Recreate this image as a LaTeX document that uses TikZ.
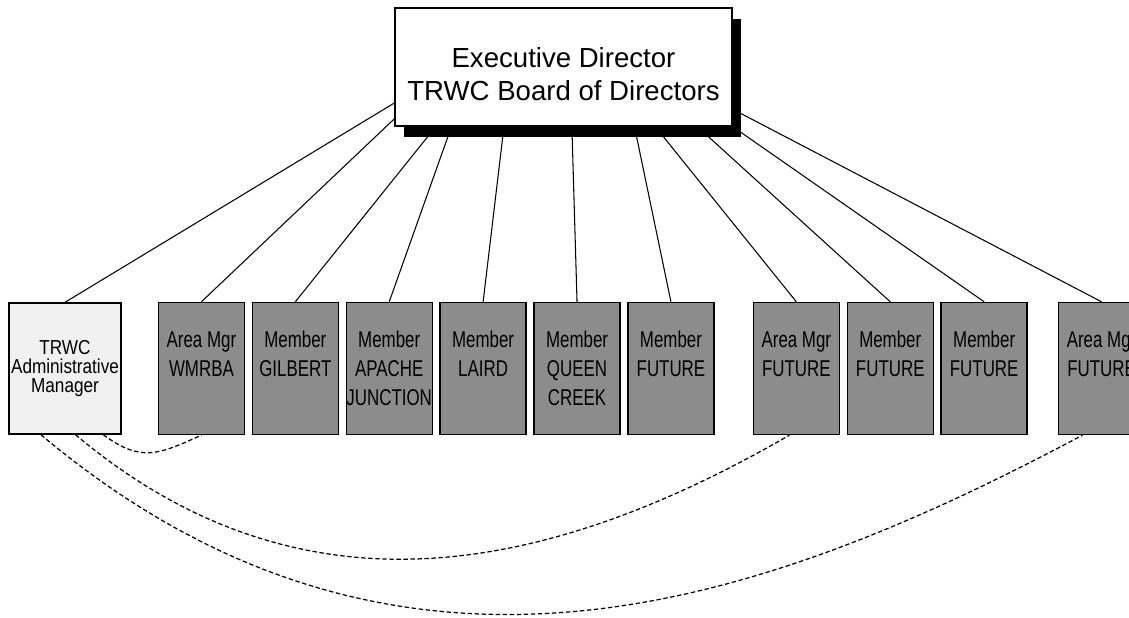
\documentclass[tikz,border=0pt]{standalone}
\usepackage{fontspec}
\setmainfont{Liberation Sans}
\newfontfamily\unitfont[FakeStretch=0.74]{Liberation Sans}
\newfontfamily\adminfont[FakeStretch=0.85]{Liberation Sans}
\usetikzlibrary{positioning,shadows}

\begin{document}
\begin{tikzpicture}[node distance=0.13cm,
    exec/.style={draw,line width=0.6pt,fill=white,inner sep=0pt,minimum width=6.74cm,minimum height=2.36cm,align=center,font=\fontsize{15.7}{18.8}\selectfont,drop shadow={shadow xshift=0.18cm,shadow yshift=-0.23cm,fill=black,opacity=1}},
    admin/.style={draw,line width=0.8pt,fill=black!6,inner sep=0pt,minimum width=2.24cm,minimum height=2.62cm,align=center,font=\adminfont\fontsize{11.5}{11}\selectfont},
    unit/.style={draw,line width=0.8pt,fill=black!45,inner sep=0pt,minimum width=1.72cm,minimum height=2.64cm,align=center,font=\unitfont\fontsize{13}{16.5}\selectfont},
    report/.style={line width=0.6pt},
    liaison/.style={line width=0.7pt,dash pattern=on 2.5pt off 1.5pt}]
        \useasboundingbox (0,0) rectangle (22.58,-12.36);
        \node[exec] (head) at (11.27,-1.34) {\rule{0pt}{19.5pt}Executive Director\\TRWC Board of Directors};
        \node[admin] (admin) at (1.30,-7.37) {TRWC\\Administrative\\Manager};
        \node[unit,right=0.72cm of admin] (wmrba) {Area Mgr\\WMRBA\\~};
        \node[unit,right=of wmrba] (gilbert) {Member\\GILBERT\\~};
        \node[unit,right=of gilbert] (apache) {Member\\APACHE\\JUNCTION};
        \node[unit,right=of apache] (laird) {Member\\LAIRD\\~};
        \node[unit,right=of laird] (queen) {Member\\QUEEN\\CREEK};
        \node[unit,right=of queen] (futa) {Member\\FUTURE\\~};
        \node[unit,right=0.76cm of futa] (futb) {Area Mgr\\FUTURE\\~};
        \node[unit,right=of futb] (futc) {Member\\FUTURE\\~};
        \node[unit,right=of futc] (futd) {Member\\FUTURE\\~};
        \node[unit,right=0.6cm of futd] (fute) {Area Mgr\\FUTURE\\~};
        % reporting lines
        \draw[report] (head.192) -- (admin.north);
        \draw[report] (head.197) -- (wmrba.north);
        \draw[report] (head.205) -- (gilbert.north);
        \draw[report] (head.208) -- (apache.north);
        \draw[report] (head.225) -- (laird.north);
        \draw[report] (head.-82) -- (queen.north);
        \draw[report] (head.-40) -- (futa.north);
        \draw[report] (head.-33) -- (futb.north);
        \draw[report] (head.-24) -- (futc.north);
        \draw[report] (head.south east) -- (futd.north);
        \draw[report] (head.-14) -- (fute.north);
        % admin links
        \draw[liaison] (admin.-60) to[out=-36,in=-156,distance=0.95cm] (wmrba.south);
        \draw[liaison] (admin.-81) to[out=-40,in=-150,out distance=5.9cm,in distance=5.6cm] (futb.-96);
        \draw[liaison] (admin.-110) to[out=-40,in=-152,out distance=9.4cm,in distance=7.14cm] (fute.-106);
\end{tikzpicture}
\end{document}
